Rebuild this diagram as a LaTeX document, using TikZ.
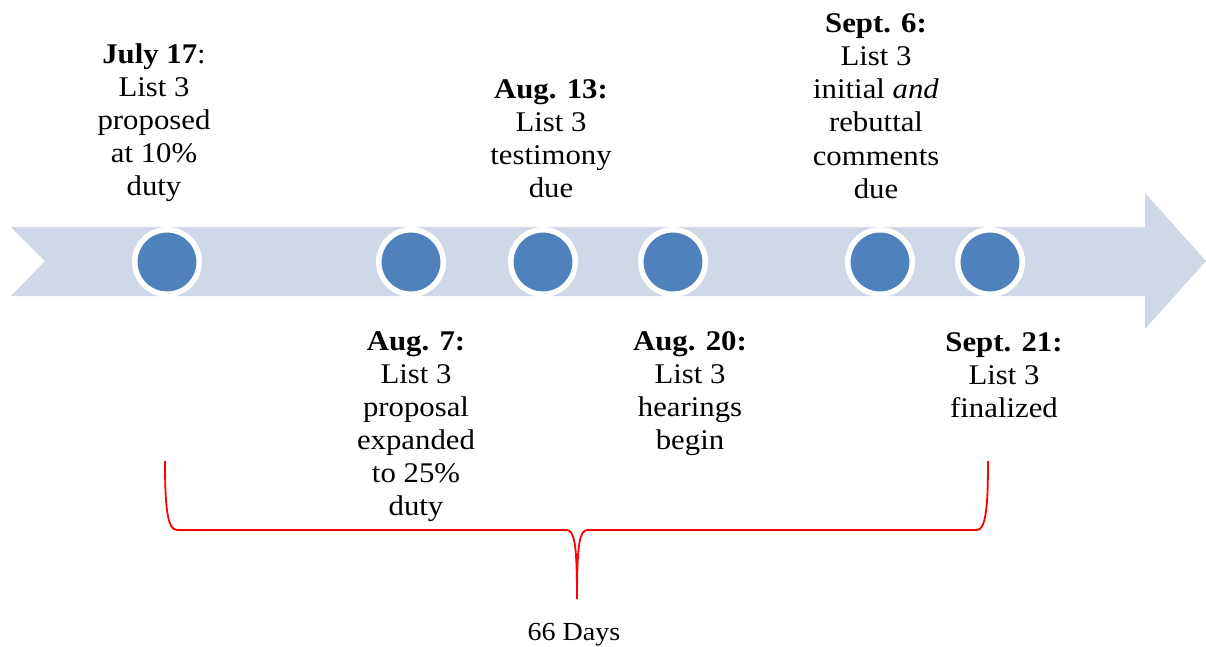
\documentclass[tikz,border=0pt]{standalone}
\usepackage{fontspec}
\setmainfont[FakeStretch=1.08]{Liberation Serif}
\definecolor{arrowfill}{HTML}{D0D8E8}
\definecolor{dotblue}{HTML}{4F81BD}
\definecolor{bracered}{HTML}{FF0000}
\begin{document}
\begin{tikzpicture}[x=1pt,y=-1pt,
  dot/.style={circle,fill=dotblue,draw=white,line width=5.5pt,minimum size=64.5pt,inner sep=0pt},
  label/.style={align=center,anchor=base,inner sep=0pt,font=\fontsize{28.5}{33}\selectfont},
  brace/.style={draw=bracered,line width=1.8pt}]
\useasboundingbox (0,0) rectangle (1206,647);
% timeline arrow
\fill[arrowfill] (11,227) -- (1145,227) -- (1145,193) -- (1206,261) -- (1145,329)
  -- (1145,296) -- (11,296) -- (45,261) -- cycle;
% dots
\node[dot] (d1) at (167,262) {};
\node[dot] (d2) at (411,262) {};
\node[dot] (d3) at (543,262) {};
\node[dot] (d4) at (673,262) {};
\node[dot] (d5) at (880,262) {};
\node[dot] (d6) at (990,262) {};
% labels above (anchor = baseline of last line)
\node[label] (t1) at (154,196) {\textbf{July 17}:\\List 3\\proposed\\at 10\%\\duty};
\node[label] (t3) at (551,197) {\textbf{Aug. 13:}\\List 3\\testimony\\due};
\node[label] (t5) at (876,198) {\textbf{Sept. 6:}\\List 3\\initial \textit{and}\\rebuttal\\comments\\due};
% labels below
\node[label] (t2) at (416,515) {\textbf{Aug. 7:}\\List 3\\proposal\\expanded\\to 25\%\\duty};
\node[label] (t4) at (690,449) {\textbf{Aug. 20:}\\List 3\\hearings\\begin};
\node[label] (t6) at (1004,417) {\textbf{Sept. 21:}\\List 3\\finalized};
% brace
\coordinate (bl) at (165,461);
\coordinate (br) at (988,461);
\coordinate (bt) at (577,599);
\draw[brace] (bl) .. controls (165,505) and (167,530) .. (177,530) -- (566,530)
  .. controls (574,530) and (577,540) .. (bt)
  .. controls (577,540) and (580,530) .. (588,530) -- (977,530)
  .. controls (986,530) and (988,505) .. (br);
\node[anchor=base,inner sep=0pt,font=\fontsize{26}{30}\selectfont] (days) at (574,640) {66 Days};
\end{tikzpicture}
\end{document}
